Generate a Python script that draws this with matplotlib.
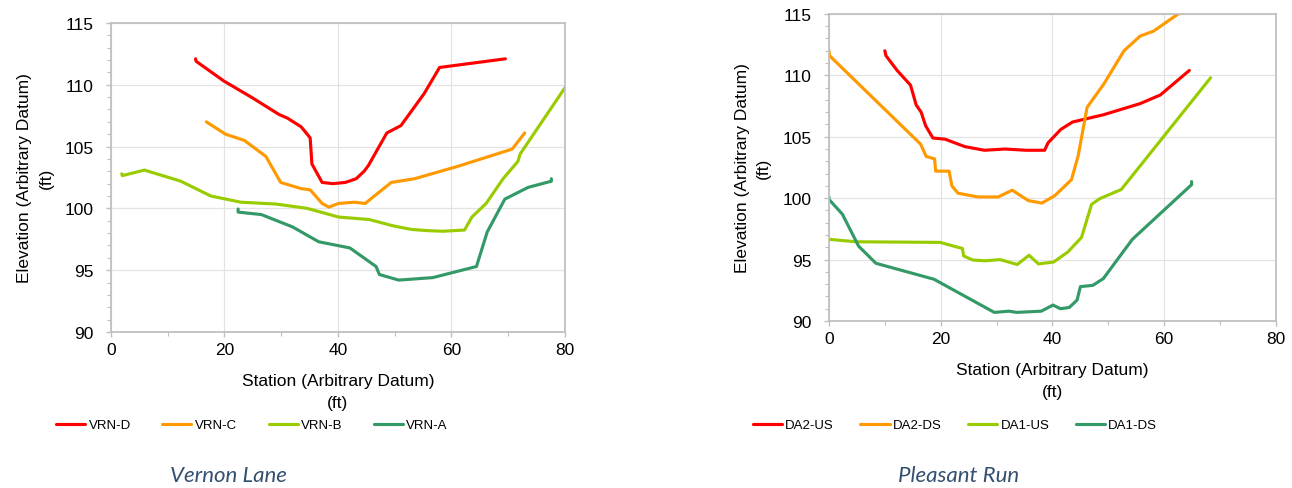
import matplotlib
matplotlib.use("Agg")
import matplotlib.pyplot as plt
from matplotlib.ticker import MultipleLocator

plt.rcParams['font.family'] = ['Liberation Sans', 'DejaVu Sans']

# Vernon Lane
vrn_d_x = [14.9, 15.0, 19.9, 24.9, 29.6, 31.1, 33.5, 34.4, 35.1, 35.4, 37.2, 39.1, 41.3, 43.2, 44.6, 45.4, 48.6, 51.1, 55.2, 57.9, 69.5]
vrn_d_y = [112.1, 111.9, 110.3, 108.95, 107.6, 107.3, 106.6, 106.1, 105.7, 103.6, 102.1, 102.0, 102.1, 102.4, 103.0, 103.5, 106.1, 106.7, 109.3, 111.4, 112.1]
vrn_c_x = [16.8, 20.2, 23.5, 27.3, 29.9, 33.5, 35.1, 37.2, 38.4, 40.1, 42.9, 44.8, 46.4, 49.4, 53.5, 61.1, 70.7, 72.9]
vrn_c_y = [107.0, 106.0, 105.5, 104.2, 102.1, 101.6, 101.5, 100.4, 100.1, 100.4, 100.5, 100.4, 101.0, 102.1, 102.4, 103.4, 104.8, 106.1]
vrn_b_x = [1.9, 2.0, 5.9, 12.3, 17.6, 22.9, 29.1, 34.6, 40.1, 45.5, 49.6, 52.9, 55.8, 58.5, 62.3, 63.6, 66.1, 69.1, 71.7, 72.1, 80.2]
vrn_b_y = [102.8, 102.65, 103.1, 102.2, 101.0, 100.5, 100.35, 100.0, 99.3, 99.1, 98.6, 98.3, 98.2, 98.15, 98.25, 99.3, 100.4, 102.4, 103.8, 104.4, 109.9]
vrn_a_x = [22.4, 22.4, 26.5, 32.0, 36.6, 42.1, 46.7, 47.3, 50.7, 56.7, 64.4, 66.3, 69.4, 73.5, 77.6, 77.6]
vrn_a_y = [99.95, 99.7, 99.5, 98.5, 97.3, 96.8, 95.3, 94.65, 94.2, 94.4, 95.3, 98.1, 100.75, 101.7, 102.2, 102.4]

# Pleasant Run
da2_us_x = [10.0, 10.2, 12.2, 14.6, 15.6, 16.5, 17.3, 18.6, 20.8, 24.3, 27.8, 31.5, 35.3, 38.6, 39.2, 41.5, 43.6, 49.2, 55.7, 59.3, 64.5]
da2_us_y = [112.0, 111.6, 110.4, 109.2, 107.6, 107.0, 105.9, 104.9, 104.8, 104.2, 103.9, 104.0, 103.9, 103.9, 104.5, 105.6, 106.2, 106.8, 107.7, 108.4, 110.4]
da2_ds_x = [0.0, 0.1, 16.4, 17.4, 18.9, 19.1, 21.5, 22.0, 23.1, 26.7, 30.3, 32.8, 35.7, 38.1, 40.4, 43.4, 44.6, 46.2, 49.2, 52.8, 55.7, 58.1, 62.5, 65.2]
da2_ds_y = [112.0, 111.6, 104.4, 103.4, 103.2, 102.2, 102.2, 101.0, 100.4, 100.1, 100.1, 100.65, 99.8, 99.6, 100.2, 101.5, 103.45, 107.4, 109.3, 112.0, 113.2, 113.6, 115.0, 115.2]
da1_us_x = [0.0, 4.9, 19.9, 23.9, 24.1, 25.7, 27.9, 30.6, 33.7, 35.8, 37.5, 40.2, 42.7, 45.2, 47.0, 48.5, 52.3, 68.3]
da1_us_y = [96.65, 96.45, 96.4, 95.9, 95.3, 94.97, 94.9, 95.0, 94.6, 95.35, 94.65, 94.8, 95.6, 96.8, 99.5, 99.97, 100.7, 109.8]
da1_ds_x = [0.0, 0.0, 2.4, 5.3, 8.4, 18.8, 29.6, 32.2, 33.6, 38.0, 40.1, 41.4, 43.0, 44.4, 45.0, 47.2, 49.1, 54.3, 64.9, 64.9]
da1_ds_y = [100.1, 99.9, 98.7, 96.1, 94.7, 93.4, 90.7, 90.8, 90.7, 90.8, 91.3, 91.0, 91.1, 91.7, 92.8, 92.9, 93.45, 96.65, 101.1, 101.35]

colors = ['#FF0000', '#FF9900', '#99CC00', '#339966']

fig = plt.figure(figsize=(12.92, 4.89), dpi=100)
ax1 = fig.add_axes([0.0859, 0.319, 0.3514, 0.632])
ax2 = fig.add_axes([0.6416, 0.3415, 0.346, 0.628])


def style(ax):
    ax.set_xlim(0, 80)
    ax.set_ylim(90, 115)
    ax.xaxis.set_major_locator(MultipleLocator(20))
    ax.xaxis.set_minor_locator(MultipleLocator(10))
    ax.yaxis.set_major_locator(MultipleLocator(5))
    ax.yaxis.set_minor_locator(MultipleLocator(1))
    ax.grid(True, which='major', color='#E3E3E3', lw=0.9)
    ax.set_axisbelow(True)
    for s in ax.spines.values():
        s.set_color('#C0C0C0')
        s.set_linewidth(1.3)
    ax.tick_params(which='both', color='#C0C0C0', labelsize=12.5, direction='out')
    ax.tick_params(which='major', length=3.5, width=1)
    ax.tick_params(which='minor', length=3, width=0.8)
    ax.tick_params(axis='x', pad=4)
    ax.tick_params(axis='y', pad=9)
    ax.set_xlabel('Station (Arbitrary Datum)\n(ft)', fontsize=12.5, labelpad=11, linespacing=1.6)
    ax.set_ylabel('Elevation (Arbitrary Datum)\n(ft)', fontsize=12.5, labelpad=8, linespacing=1.5)


for x, y, c, lab in zip([vrn_d_x, vrn_c_x, vrn_b_x, vrn_a_x],
                        [vrn_d_y, vrn_c_y, vrn_b_y, vrn_a_y],
                        colors, ['VRN-D', 'VRN-C', 'VRN-B', 'VRN-A']):
    ax1.plot(x, y, color=c, lw=2.25, label=lab, solid_capstyle='round', solid_joinstyle='round')

for x, y, c, lab in zip([da2_us_x, da2_ds_x, da1_us_x, da1_ds_x],
                        [da2_us_y, da2_ds_y, da1_us_y, da1_ds_y],
                        colors, ['DA2-US', 'DA2-DS', 'DA1-US', 'DA1-DS']):
    ax2.plot(x, y, color=c, lw=2.25, label=lab, solid_capstyle='round', solid_joinstyle='round')

style(ax1)
style(ax2)

leg_kw = dict(loc='center', ncol=4, frameon=False, fontsize=9.5, handlelength=2.2,
              handletextpad=0.25)
fig.legend(*ax1.get_legend_handles_labels(), bbox_to_anchor=(252 / 1292, 1 - 426 / 489),
           columnspacing=2.4, **leg_kw)
fig.legend(*ax2.get_legend_handles_labels(), bbox_to_anchor=(955 / 1292, 1 - 426 / 489),
           columnspacing=2.0, **leg_kw)

title_kw = dict(ha='center', va='center', fontsize=16, style='italic', color='#34506F',
                family=['Lato', 'DejaVu Sans'], weight='normal')
fig.text(228 / 1292, 1 - 476 / 489, 'Vernon Lane', **title_kw)
fig.text(959 / 1292, 1 - 476 / 489, 'Pleasant Run', **title_kw)

fig.savefig('out.png', dpi=100)
